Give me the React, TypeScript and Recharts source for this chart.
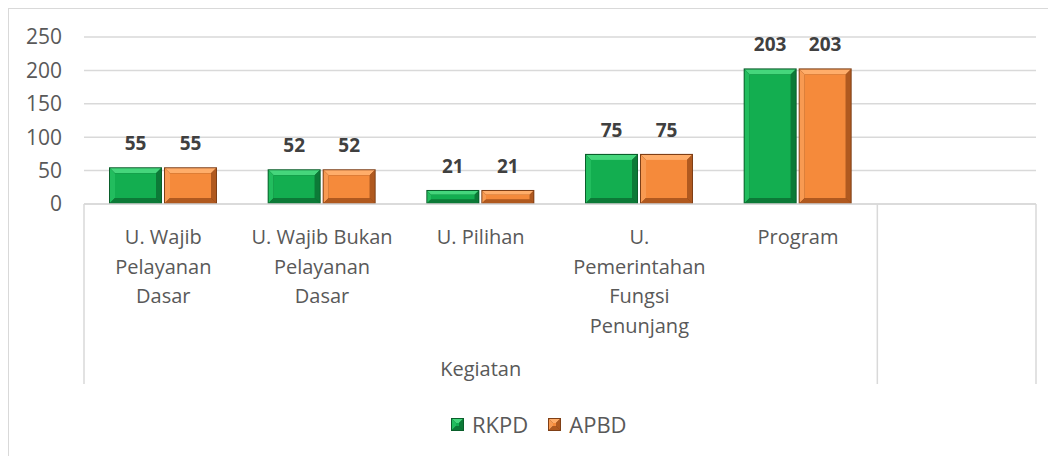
import React from 'react';
import { BarChart, Bar, XAxis, YAxis, CartesianGrid, LabelList } from 'recharts';

const categories = [
  'U. Wajib Pelayanan Dasar',
  'U. Wajib Bukan Pelayanan Dasar',
  'U. Pilihan',
  'U. Pemerintahan Fungsi Penunjang',
  'Program',
  '',
];
// how each category label wraps under the axis
const categoryLines = [
  ['U. Wajib', 'Pelayanan', 'Dasar'],
  ['U. Wajib Bukan', 'Pelayanan', 'Dasar'],
  ['U. Pilihan'],
  ['U.', 'Pemerintahan', 'Fungsi', 'Penunjang'],
  ['Program'],
  [],
];
const groupName = 'Kegiatan';
const groupSpan = 5; // categories covered by the outer label
const rkpd = [55, 52, 21, 75, 203, null];
const apbd = [55, 52, 21, 75, 203, null];
const yTicks = [0, 50, 100, 150, 200, 250];
const seriesNames = ['RKPD', 'APBD'];

const data = categories.map((c, i) => ({ name: c, RKPD: rkpd[i], APBD: apbd[i] }));

const FONT = '"Open Sans", sans-serif';
const W = 1047;
const H = 447;
const MARGIN = { top: 28, right: 20, left: 0, bottom: 62 };
const Y_W = 75;
const X_H = 190;
const PLOT_W = W - MARGIN.left - MARGIN.right - Y_W;
const BAND = PLOT_W / categories.length;

const PALETTE = {
  RKPD: { main: '#13ae50', light: '#45d67c', side: '#22bd5e', dark: '#0c7a37', edge: '#0a5f2b' },
  APBD: { main: '#f58a3b', light: '#ffad6a', side: '#f89a52', dark: '#b0591f', edge: '#7f3f16' },
};

type Pal = typeof PALETTE.RKPD;

function bevelParts(x: number, y: number, w: number, h: number, p: Pal, b: number) {
  return (
    <g>
      <rect x={x} y={y} width={w} height={h} fill={p.edge} />
      <polygon points={`${x + 1},${y + 1} ${x + w - 1},${y + 1} ${x + w - b},${y + b} ${x + b},${y + b}`} fill={p.light} />
      <polygon points={`${x + 1},${y + 1} ${x + b},${y + b} ${x + b},${y + h - b} ${x + 1},${y + h - 1}`} fill={p.side} />
      <polygon points={`${x + w - 1},${y + 1} ${x + w - 1},${y + h - 1} ${x + w - b},${y + h - b} ${x + w - b},${y + b}`} fill={p.dark} />
      <polygon points={`${x + 1},${y + h - 1} ${x + w - 1},${y + h - 1} ${x + w - b},${y + h - b} ${x + b},${y + h - b}`} fill={p.dark} />
      <rect x={x + b} y={y + b} width={Math.max(0, w - 2 * b)} height={Math.max(0, h - 2 * b)} fill={p.main} />
    </g>
  );
}

const makeBevel = (p: Pal) => (props: any) => {
  const { x, y, width, height } = props;
  if (!height || height <= 0) return <g />;
  const b = Math.min(6, height / 3, width / 3);
  return bevelParts(x, y, width, height, p, b);
};

const CategoryTick = (props: any) => {
  const { x, y, index } = props;
  const lines = categoryLines[index] || [];
  const left = x - BAND / 2;
  return (
    <g>
      {lines.map((t, i) => (
        <text key={i} x={x} y={y + 40 + i * 29.5} textAnchor="middle" fill="#595959" fontSize={20} fontFamily={FONT}>
          {t}
        </text>
      ))}
      {index === 0 && (
        <>
          <line x1={left} x2={left} y1={y} y2={y + 180} stroke="#d9d9d9" strokeWidth={1.5} />
          <text x={left + (BAND * groupSpan) / 2} y={y + 172} textAnchor="middle" fill="#595959" fontSize={20} fontFamily={FONT}>
            {groupName}
          </text>
        </>
      )}
      {index === groupSpan && (
        <>
          <line x1={left} x2={left} y1={y} y2={y + 180} stroke="#d9d9d9" strokeWidth={1.5} />
          <line x1={left + BAND} x2={left + BAND} y1={y} y2={y + 180} stroke="#d9d9d9" strokeWidth={1.5} />
        </>
      )}
    </g>
  );
};

function LegendSwatch({ p }: { p: Pal }) {
  return (
    <svg width={13} height={13} style={{ display: 'block' }}>
      {bevelParts(0, 0, 13, 13, p, 5)}
    </svg>
  );
}

export default function App() {
  return (
    <div
      style={{
        position: 'relative',
        width: 1048,
        height: 448,
        borderTop: '1px solid #d9d9d9',
        borderLeft: '1px solid #d9d9d9',
        boxSizing: 'border-box',
        fontFamily: FONT,
      }}
    >
      <BarChart width={W} height={H} data={data} margin={MARGIN} barSize={53} barGap={2}>
        <CartesianGrid vertical={false} stroke="#d9d9d9" strokeWidth={1.5} />
        <YAxis
          width={Y_W}
          domain={[0, 250]}
          ticks={yTicks}
          axisLine={false}
          tickLine={false}
          tickSize={6}
          tickMargin={16}
          tick={{ fill: '#595959', fontSize: 21, fontFamily: FONT }}
        />
        <XAxis
          dataKey="name"
          height={X_H}
          interval={0}
          axisLine={{ stroke: '#d9d9d9', strokeWidth: 1.5 }}
          tickLine={false}
          tickSize={0}
          tickMargin={0}
          tick={<CategoryTick />}
        />
        {seriesNames.map((s) => (
          <Bar key={s} dataKey={s} isAnimationActive={false} shape={makeBevel(PALETTE[s as 'RKPD'])}>
            <LabelList
              dataKey={s}
              position="top"
              offset={17}
              fill="#404040"
              fontSize={19}
              fontWeight="bold"
              fontFamily={FONT}
              formatter={(v: any) => (v == null ? '' : v)}
            />
          </Bar>
        ))}
      </BarChart>
      <div
        style={{
          position: 'absolute',
          top: 402,
          left: 442,
          height: 26,
          display: 'flex',
          alignItems: 'center',
          gap: 20,
          color: '#595959',
          fontSize: 22,
        }}
      >
        {seriesNames.map((s) => (
          <div key={s} style={{ display: 'flex', alignItems: 'center', gap: 8 }}>
            <LegendSwatch p={PALETTE[s as 'RKPD']} />
            <span>{s}</span>
          </div>
        ))}
      </div>
    </div>
  );
}
